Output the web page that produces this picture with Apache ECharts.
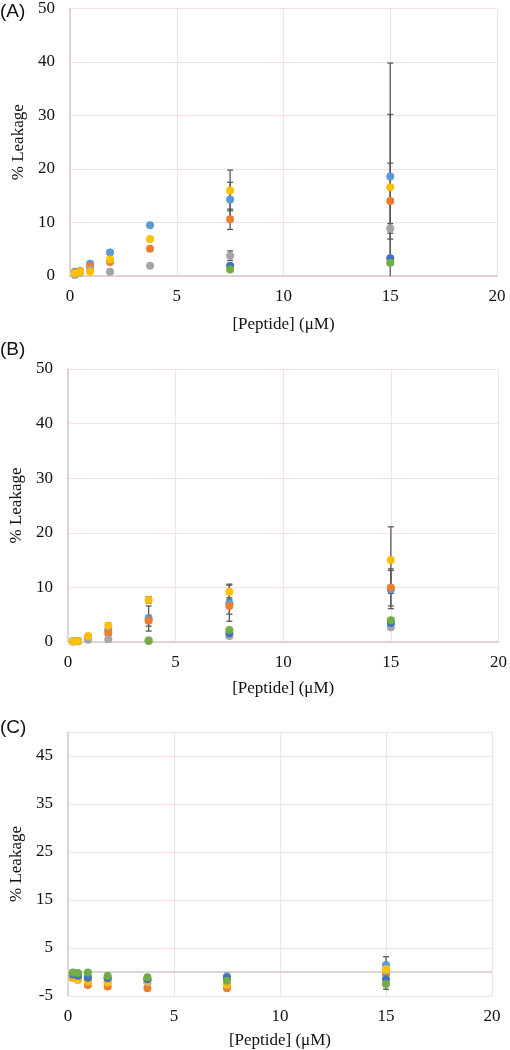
<!DOCTYPE html>
<html><head><meta charset="utf-8">
<script src="https://cdn.jsdelivr.net/npm/echarts@6/dist/echarts.min.js"></script>
<style>html,body{margin:0;padding:0;background:#fff}#c{width:510px;height:1050px}</style>
</head><body><div id="c"></div><script>
// Peptide concentrations (µM)
const concentrations = [0.23, 0.47, 0.94, 1.875, 3.75, 7.5, 15];
const panelLabels = ['(A)', '(B)', '(C)'];
const xTitle = '[Peptide] (\u03bcM)';
const yTitle = '% Leakage';
const xTicks = [0, 5, 10, 15, 20];

// Panel A
const aLightBlue = [0.8, 0.9, 2.3, 4.4, 9.5, 14.3, 18.6];
const aLightBlueErr = [0.2, 0.2, 0.4, 0.4, 0.3, 3.2, 21.2];
const aOrange = [0.6, 0.9, 1.8, 2.6, 5.1, 10.6, 14.0];
const aOrangeErr = [0.2, 0.2, 0.3, 0.3, 0.3, 1.9, 7.1];
const aGray = [0.2, 0.6, 1.2, 0.8, 1.9, 3.8, 8.9];
const aGrayErr = [0.1, 0.1, 0.2, 0.2, 0.2, 0.9, 0.9];
const aYellow = [0.5, 0.8, 0.8, 3.1, 6.9, 16.0, 16.6];
const aYellowErr = [0.1, 0.2, 0.2, 0.3, 0.3, 3.8, 13.6];
const aDarkBlue = [null, null, null, null, null, 1.9, 3.3];
const aDarkBlueErr = [null, null, null, null, null, 0.3, 0.5];
const aGreen = [null, null, null, null, null, 1.2, 2.5];
const aGreenErr = [null, null, null, null, null, 0.3, 0.5];

// Panel B
const bLightBlue = [0.2, 0.2, 0.8, 2.2, 4.3, 7.1, 9.6];
const bLightBlueErr = [0.1, 0.1, 0.2, 0.5, 2.3, 3.3, 3.5];
const bOrange = [0.1, 0.2, 0.6, 1.6, 3.9, 6.6, 10.0];
const bOrangeErr = [0.1, 0.1, 0.2, 0.4, 1.0, 1.5, 3.4];
const bGray = [0.1, 0.1, 0.4, 0.5, 0.3, 1.1, 2.7];
const bGrayErr = [0.1, 0.1, 0.1, 0.2, 0.2, 0.3, 0.4];
const bYellow = [0.1, 0.2, 1.1, 3.0, 7.7, 9.2, 15.0];
const bYellowErr = [0.1, 0.1, 0.3, 0.5, 0.6, 1.4, 6.1];
const bDarkBlue = [null, null, null, null, null, 1.6, 3.5];
const bDarkBlueErr = [null, null, null, null, null, 0.3, 0.4];
const bGreen = [null, null, null, null, 0.2, 2.2, 4.0];
const bGreenErr = [null, null, null, null, 0.1, 0.3, 0.4];

// Panel C
const cLightBlue = [-0.6, -0.8, -1.0, -1.3, -1.5, -1.0, 1.45];
const cLightBlueErr = [0.2, 0.2, 0.3, 0.3, 0.3, 0.9, 1.75];
const cOrange = [-1.2, -1.5, -2.7, -3.0, -3.4, -3.4, -0.4];
const cOrangeErr = [0.2, 0.2, 0.3, 0.3, 0.3, 0.4, 0.5];
const cGray = [-0.8, -1.2, -1.6, -2.0, -2.2, -2.7, 0.2];
const cGrayErr = [0.2, 0.2, 0.2, 0.3, 0.3, 0.4, 0.5];
const cYellow = [-1.0, -1.7, -2.0, -2.2, -2.0, -2.6, 0.55];
const cYellowErr = [0.2, 0.2, 0.2, 0.3, 0.3, 0.4, 0.6];
const cDarkBlue = [-0.5, -0.8, -1.2, -1.3, -1.5, -1.2, -1.5];
const cDarkBlueErr = [0.2, 0.2, 0.2, 0.3, 0.3, 0.5, 0.6];
const cGreen = [-0.1, -0.2, -0.1, -0.8, -1.1, -1.8, -2.5];
const cGreenErr = [0.2, 0.2, 0.2, 0.3, 0.3, 0.4, 1.1];

const colors = ['#5B9BD5', '#ED7D31', '#A5A5A5', '#FFC000', '#3F72C0', '#70AD47'];
const panels = [
  [[aLightBlue, aLightBlueErr], [aOrange, aOrangeErr], [aGray, aGrayErr], [aYellow, aYellowErr], [aDarkBlue, aDarkBlueErr], [aGreen, aGreenErr]],
  [[bLightBlue, bLightBlueErr], [bOrange, bOrangeErr], [bGray, bGrayErr], [bYellow, bYellowErr], [bDarkBlue, bDarkBlueErr], [bGreen, bGreenErr]],
  [[cLightBlue, cLightBlueErr], [cOrange, cOrangeErr], [cGray, cGrayErr], [cYellow, cYellowErr], [cDarkBlue, cDarkBlueErr], [cGreen, cGreenErr]]
];

const serif = 'Liberation Serif';
const gridColor = '#f8e0e0';
const axisColor = '#d8c8c8';
const grids = [
  {left: 70, top: 7, width: 427, height: 269},
  {left: 67, top: 369, width: 434, height: 273},
  {left: 57, top: 732, width: 435, height: 264}
];
const yRanges = [{min: 0, max: 50}, {min: 0, max: 50}, {min: -5, max: 50}];
const yNameGaps = [42, 39, 32];
const xNameGaps = [40, 38, 36];
const labelTops = [2, 340, 718];

function errorRender(params, api) {
  const x = api.value(0), y = api.value(1), e = api.value(2);
  const top = api.coord([x, y + e]);
  const bot = api.coord([x, y - e]);
  const cs = params.coordSys;
  const clamp = v => Math.max(cs.y, Math.min(cs.y + cs.height, v));
  const style = {stroke: '#5a5a5a', lineWidth: 1.3, fill: null};
  const hw = 3;
  const children = [{type: 'line', shape: {x1: top[0], y1: clamp(top[1]), x2: top[0], y2: clamp(bot[1])}, style}];
  if (top[1] >= cs.y) children.push({type: 'line', shape: {x1: top[0] - hw, y1: top[1], x2: top[0] + hw, y2: top[1]}, style});
  if (bot[1] <= cs.y + cs.height) children.push({type: 'line', shape: {x1: bot[0] - hw, y1: bot[1], x2: bot[0] + hw, y2: bot[1]}, style});
  return {type: 'group', children};
}

const xAxes = [], yAxes = [], series = [];
panels.forEach((panel, p) => {
  xAxes.push({
    type: 'value', gridIndex: p, min: 0, max: 20, interval: 5,
    name: xTitle, nameLocation: 'middle', nameGap: xNameGaps[p],
    nameTextStyle: {fontFamily: serif, fontSize: 17, color: '#111'},
    axisLine: {show: p !== 2, onZero: false, lineStyle: {color: axisColor, width: 1.5}},
    axisTick: {show: false},
    axisLabel: {fontFamily: serif, fontSize: 17, color: '#111', margin: 12},
    splitLine: {show: true, lineStyle: {color: gridColor, width: 1}}
  });
  yAxes.push({
    type: 'value', gridIndex: p, min: yRanges[p].min, max: yRanges[p].max, interval: 10,
    name: yTitle, nameLocation: 'middle', nameGap: yNameGaps[p],
    nameTextStyle: {fontFamily: serif, fontSize: 17, color: '#111'},
    axisLine: {show: true, lineStyle: {color: axisColor, width: 1.5}},
    axisTick: {show: false},
    axisLabel: {fontFamily: serif, fontSize: 17, color: '#111', margin: 15,
      formatter: v => (p === 2 && v === 50) ? '' : String(v)},
    splitLine: {show: true, lineStyle: {color: gridColor, width: 1}}
  });
  const errData = [];
  panel.forEach(([vals, errs]) => {
    vals.forEach((v, i) => { if (v !== null && errs[i] !== null) errData.push([concentrations[i], v, errs[i]]); });
  });
  series.push({
    type: 'custom', xAxisIndex: p, yAxisIndex: p, renderItem: errorRender,
    data: errData, encode: {x: 0, y: 1}, z: 2, silent: true
  });
  if (p === 2) {
    series.push({
      type: 'scatter', xAxisIndex: p, yAxisIndex: p, data: [], z: 1, silent: true,
      markLine: {silent: true, symbol: 'none', label: {show: false},
        lineStyle: {color: '#d6c4c4', type: 'solid', width: 1.5}, data: [{yAxis: 0}]}
    });
  }
  panel.forEach(([vals], s) => {
    series.push({
      type: 'scatter', xAxisIndex: p, yAxisIndex: p, z: 3 + s,
      symbol: 'circle', symbolSize: 8,
      itemStyle: {color: colors[s], opacity: 1},
      data: vals.map((v, i) => v === null ? null : [concentrations[i], v]).filter(d => d)
    });
  });
});

const chart = echarts.init(document.getElementById('c'), null, {renderer: 'canvas'});
chart.setOption({
  animation: false,
  backgroundColor: '#ffffff',
  grid: grids,
  xAxis: xAxes,
  yAxis: yAxes,
  series: series,
  graphic: panelLabels.map((t, i) => ({
    type: 'text', left: 0, top: labelTops[i],
    style: {text: t, font: '19px "Liberation Sans"', fill: '#111'}
  }))
});
</script></body></html>
